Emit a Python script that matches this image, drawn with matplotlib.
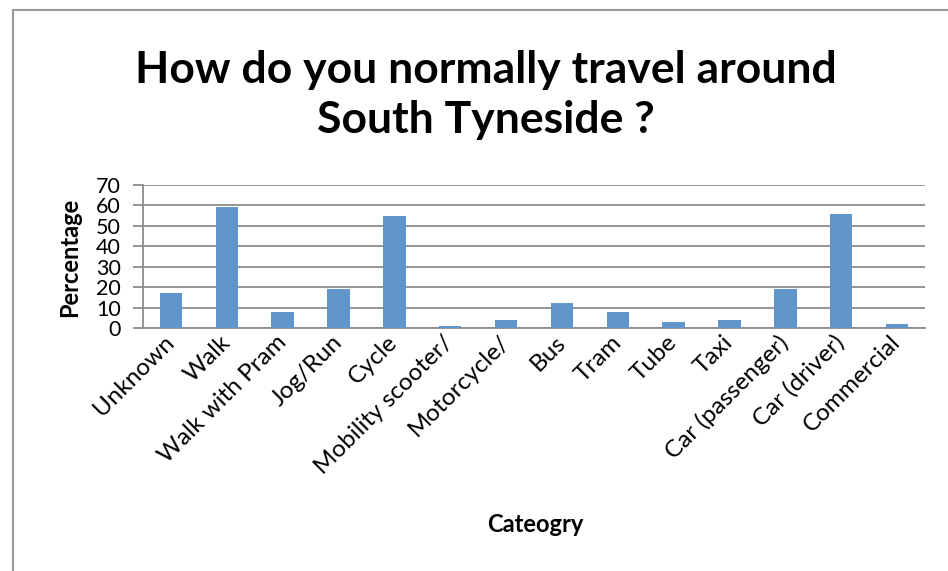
import matplotlib
matplotlib.use("Agg")
import matplotlib.pyplot as plt
from matplotlib.patches import Rectangle

plt.rcParams['font.family'] = ['Lato', 'DejaVu Sans']

categories = ['Unknown', 'Walk', 'Walk with Pram', 'Jog/Run', 'Cycle',
              'Mobility scooter/', 'Motorcycle/', 'Bus', 'Tram', 'Tube',
              'Taxi', 'Car (passenger)', 'Car (driver)', 'Commercial']
percentage = [17, 59, 8, 19, 55, 1, 4, 12, 8, 3, 4, 19, 56, 2]

W, H = 948, 571
fig = plt.figure(figsize=(W / 100, H / 100), dpi=100)

# outer chart frame (top and left edges visible)
fig.patches.append(Rectangle((13 / W, -0.1), 2, 1.1 - 10 / H, transform=fig.transFigure,
                             fill=False, edgecolor='#9a9a9a', linewidth=1.5))

ax = fig.add_axes([143 / W, 1 - 328 / H, (925 - 143) / W, (328 - 185) / H])

grid_col = '#8c8c8c'
x = range(len(categories))
ax.bar(x, percentage, width=0.4, color='#6096ca', zorder=3)

ax.set_xlim(-0.5, len(categories) - 0.5)
ax.set_ylim(0, 70)
ax.set_yticks(range(0, 71, 10))
ax.yaxis.grid(True, color=grid_col, linewidth=1.3, zorder=0)
for s in ['top', 'right']:
    ax.spines[s].set_visible(False)
ax.spines['left'].set_color(grid_col)
ax.spines['bottom'].set_color(grid_col)
ax.spines['left'].set_linewidth(1.3)
ax.spines['bottom'].set_linewidth(1.3)

ax.tick_params(axis='y', length=7, width=1.3, color=grid_col, labelsize=15.5, pad=9)
ax.tick_params(axis='x', length=0, pad=8)
ax.set_xticks(list(x))
ax.set_xticklabels(categories, rotation=45, ha='right', va='center',
                   rotation_mode='anchor', fontsize=17.5)

fig.text(70 / W, 1 - 257 / H, 'Percentage', fontsize=17, fontweight='bold',
         rotation=90, ha='center', va='center')
fig.text(535 / W, 1 - 525 / H, 'Cateogry', fontsize=17, fontweight='bold',
         ha='center', va='center')

fig.text(486 / W, 1 - 95 / H, 'How do you normally travel around\nSouth Tyneside ?',
         fontsize=32, fontweight='bold', ha='center', va='center', linespacing=1.32)

fig.savefig('out.png', dpi=100)
